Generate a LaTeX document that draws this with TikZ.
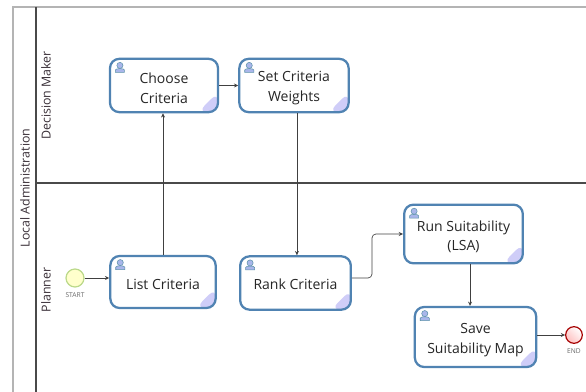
\documentclass[tikz,border=0pt]{standalone}
\usepackage{fontspec}
\setmainfont{Open Sans}
\usetikzlibrary{arrows.meta}
\definecolor{taskblue}{HTML}{5083B2}
\definecolor{cornerfill}{HTML}{CFCDF8}
\definecolor{lanegrey}{HTML}{B4B4B4}
\definecolor{lanedark}{HTML}{4A4A4A}
\definecolor{labeltext}{HTML}{3A3038}
\definecolor{iconfill}{HTML}{A9B6EA}
\definecolor{iconline}{HTML}{5C93AA}
\definecolor{startline}{HTML}{BBD98A}
\definecolor{startfill}{HTML}{FFFFCC}
\newcommand{\nudge}[1]{\rule{0pt}{#1}}
\begin{document}
\begin{tikzpicture}
    [x=0.75pt,y=-0.75pt,
    task/.style={rectangle,rounded corners=7pt,draw=taskblue,line width=1.7pt,fill=white,
                 align=center,inner sep=0pt,text=black!85,font=\fontsize{10.5}{14.8}\selectfont,
                 path picture={\fill[cornerfill]
                     (path picture bounding box.south east) -- ++(-15pt,0pt)
                     -- ++(15pt,15pt) -- cycle;}},
    lane/.style={rotate=90,text=labeltext,font=\fontsize{9.3}{11}\selectfont},
    flow/.style={-{Stealth[length=3.2pt,width=3pt]},draw=black!75,line width=0.5pt},
    eventlabel/.style={text=black!60,font=\fontsize{5}{6}\selectfont}]

    \useasboundingbox (0,0) rectangle (586,392);

    % pool and lanes
    \draw[lanegrey,line width=0.9pt] (13,392) -- (13,7) -- (586,7);
    \draw[lanedark,line width=0.9pt] (36,7) -- (36,392);
    \draw[lanedark,line width=0.9pt] (36,183) -- (586,183);
    \node[lane] (pool) at (25,188) {Local Administration};
    \node[lane] (decision maker) at (46,95.5) {Decision Maker};
    \node[lane] (planner) at (46,290) {Planner};

    % tasks
    \node[task,minimum width=81pt,minimum height=40pt] (choose) at (164,85.5) {\nudge{12pt}Choose\\Criteria};
    \node[task,minimum width=82pt,minimum height=40pt] (set) at (294,85.5) {\nudge{12pt}Set Criteria\\Weights};
    \node[task,minimum width=79pt,minimum height=39pt] (list) at (163,282) {\nudge{11pt}List Criteria};
    \node[task,minimum width=83pt,minimum height=40pt] (rank) at (295.5,283) {\nudge{9.5pt}Rank Criteria};
    \node[task,minimum width=89pt,minimum height=44pt] (run) at (463.5,234) {\nudge{12pt}Run Suitability\\(LSA)};
    \node[task,minimum width=91pt,minimum height=45pt] (save) at (475.5,337) {\nudge{12.5pt}Save\\Suitability Map};

    % user icons
    \foreach \name in {choose,set,list,rank,run,save} {
        \begin{scope}[shift={(\name.north west)},xshift=8.3pt,yshift=-5.8pt]
            \fill[iconfill,draw=iconline,line width=0.4pt]
                (-3.4pt,-5.2pt) -- (-3.4pt,-3.4pt) .. controls (-3.4pt,-2pt) and (3.4pt,-2pt) ..
                (3.4pt,-3.4pt) -- (3.4pt,-5.2pt) -- cycle;
            \fill[iconfill,draw=iconline,line width=0.4pt] (0pt,0pt) circle (2.3pt);
        \end{scope}
    }

    % events
    \node[circle,draw=startline,fill=startfill,line width=0.9pt,
          minimum size=13.5pt,inner sep=0pt] (start) at (75,278) {};
    \node[eventlabel] (start label) at (75,295) {START};
    \node[circle,draw=red!65!black,top color=white,bottom color=red!25,shading angle=-45,
          line width=0.9pt,minimum size=12.5pt,inner sep=0pt] (end) at (574,335) {};
    \node[eventlabel] (end label) at (574,351) {END};

    % sequence flows
    \coordinate (bend) at (372,278);
    \draw[flow] (start) -- (list.west |- start);
    \draw[flow] (list.north) -- (list.north |- choose.south);
    \draw[flow] (choose.east) -- (set.west);
    \draw[flow] ([xshift=2.2pt]set.south) -- ([xshift=2.2pt]set.south |- rank.north);
    \draw[flow,rounded corners=3pt] (rank.east |- bend) -- (bend) |- (run.west);
    \draw[flow] ([xshift=4.9pt]run.south) -- ([xshift=4.9pt]run.south |- save.north);
    \draw[flow] (save.east |- end) -- (end);
\end{tikzpicture}
\end{document}
